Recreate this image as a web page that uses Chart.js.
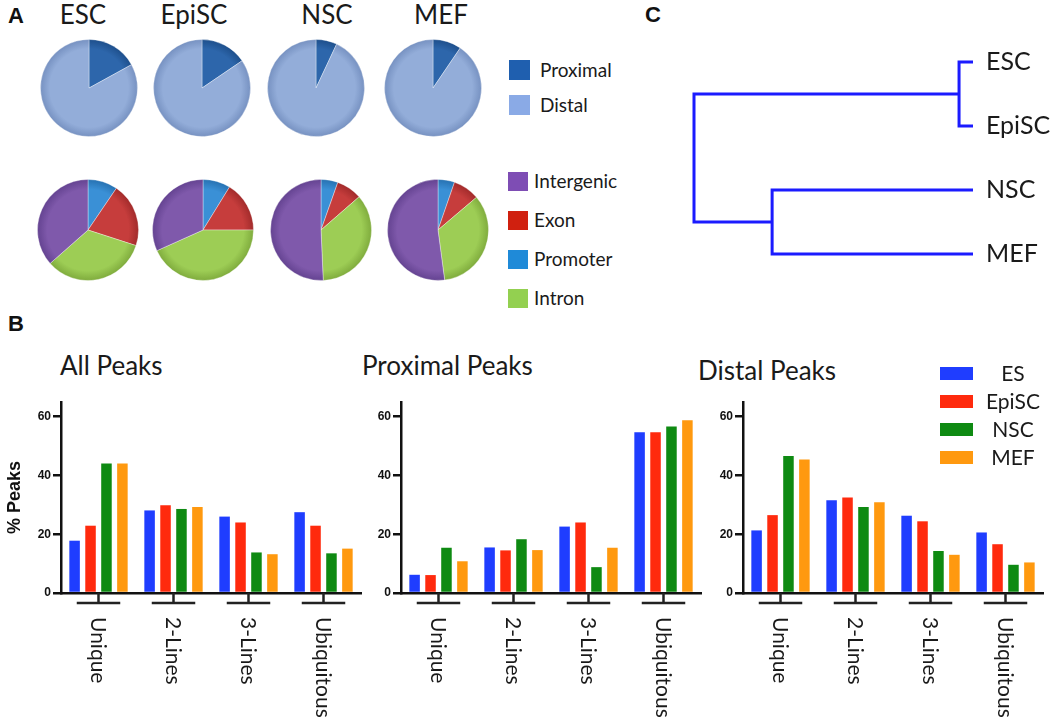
<!DOCTYPE html>
<html>
<head>
<meta charset="utf-8">
<script src="https://cdn.jsdelivr.net/npm/chart.js@4.4.1/dist/chart.umd.min.js"></script>
<style>
  body { margin: 0; background: #fff; }
  #fig { position: relative; width: 1050px; height: 725px; overflow: hidden; font-family: Lato, 'Open Sans', sans-serif; color: #1a1a1a; }
  .abs { position: absolute; white-space: nowrap; line-height: 1; }
  canvas { position: absolute; }
  .sw { position: absolute; }
</style>
</head>
<body>
<div id="fig"></div>
<script>
// --- A: pie data (percent) ---
const cellLines = ['ESC', 'EpiSC', 'NSC', 'MEF'];
const locationLabels = ['Proximal', 'Distal'];
const proximalPct = [17, 15.5, 7, 9.5];
const distalPct = [83, 84.5, 93, 90.5];
const featureLabels = ['Promoter', 'Exon', 'Intron', 'Intergenic'];
const promoterPct = [9.5, 8.8, 5.4, 5.3];
const exonPct = [20.5, 16.2, 8.2, 8.5];
const intronPct = [33.5, 43.3, 35.7, 34.1];
const intergenicPct = [36.5, 31.7, 50.7, 52.1];
const featureLegendOrder = ['Intergenic', 'Exon', 'Promoter', 'Intron'];

// --- C: dendrogram ---
const leafLabels = ['ESC', 'EpiSC', 'NSC', 'MEF'];
const mergePairs = [[0, 1], [2, 3], [4, 5]];
const mergeHeights = [0.05, 0.72, 1.0];

// --- B: bar data (% peaks) ---
const categories = ['Unique', '2-Lines', '3-Lines', 'Ubiquitous'];
const seriesLabels = ['ES', 'EpiSC', 'NSC', 'MEF'];
const yTicks = [0, 20, 40, 60];
const allES = [17.8, 28.1, 26.0, 27.5];
const allEpiSC = [22.9, 29.9, 24.0, 22.9];
const allNSC = [44.1, 28.6, 13.8, 13.5];
const allMEF = [44.1, 29.3, 13.2, 15.1];
const proxES = [6.2, 15.5, 22.6, 54.7];
const proxEpiSC = [6.1, 14.5, 24.0, 54.7];
const proxNSC = [15.4, 18.3, 8.8, 56.7];
const proxMEF = [10.8, 14.6, 15.4, 58.8];
const distES = [21.3, 31.6, 26.3, 20.6];
const distEpiSC = [26.5, 32.5, 24.4, 16.6];
const distNSC = [46.6, 29.3, 14.3, 9.6];
const distMEF = [45.4, 30.9, 13.0, 10.4];

// colours
const locColors = [['#2d66ab', '#1d4e8a'], ['#93add9', '#7590c0']];
const featColors = { Promoter: ['#3a90d6', '#2670b0'], Exon: ['#c63d3c', '#a02a2a'], Intron: ['#9dcd55', '#7eaa3c'], Intergenic: ['#7f59ab', '#634290'] };
const locSwatch = { Proximal: '#1f5faf', Distal: '#8aaae6' };
const featSwatch = { Intergenic: '#7e4db4', Exon: '#d0200f', Promoter: '#1f8ad8', Intron: '#93d050' };
const barColors = ['#1f3dff', '#ff2a0d', '#0e8a12', '#ff990f'];
const ink = '#1a1a1a';
const boldFont = "'Liberation Sans', Arial, sans-serif";

const fig = document.getElementById('fig');

function addText(text, left, top, css) {
  const d = document.createElement('div');
  d.className = 'abs';
  d.textContent = text;
  d.style.left = left + 'px';
  d.style.top = top + 'px';
  Object.assign(d.style, css || {});
  fig.appendChild(d);
  return d;
}

function addCanvas(left, top, w, h) {
  const c = document.createElement('canvas');
  c.width = w; c.height = h;
  c.style.left = left + 'px'; c.style.top = top + 'px';
  fig.appendChild(c);
  return c;
}

function addSwatch(left, top, w, h, color) {
  const s = document.createElement('div');
  s.className = 'sw';
  Object.assign(s.style, { left: left + 'px', top: top + 'px', width: w + 'px', height: h + 'px', background: color });
  fig.appendChild(s);
}

// 立体風の放射グラデーション（スライスごと）
function shade(colors) {
  return ctx => {
    const pair = colors[ctx.dataIndex] || colors[0];
    const area = ctx.chart.chartArea;
    if (!area) return pair[0];
    const cx = (area.left + area.right) / 2;
    const cy = (area.top + area.bottom) / 2;
    const r = Math.min(area.width, area.height) / 2;
    const g = ctx.chart.ctx.createRadialGradient(cx, cy, 0, cx, cy, r);
    g.addColorStop(0, pair[0]);
    g.addColorStop(0.8, pair[0]);
    g.addColorStop(1, pair[1]);
    return g;
  };
}

function makePie(cx, cy, r, values, colors) {
  const size = 2 * r + 2;
  const canvas = addCanvas(cx - size / 2, cy - size / 2, size, size);
  new Chart(canvas, {
    type: 'pie',
    data: {
      datasets: [{
        data: values,
        backgroundColor: shade(colors),
        borderColor: 'rgba(255,255,255,0.35)',
        borderWidth: 1
      }]
    },
    options: {
      responsive: false,
      animation: false,
      layout: { padding: 0 },
      plugins: { legend: { display: false }, tooltip: { enabled: false } }
    }
  });
}

// ---------- Panel A ----------
addText('A', 8, 5, { fontFamily: boldFont, fontWeight: 'bold', fontSize: '22px', color: '#111' });
const headerX = [83, 194, 327, 441];
const topPieX = [89, 202, 316, 433];
const botPieX = [88, 203, 321, 438];
cellLines.forEach((name, i) => {
  addText(name, headerX[i] - 60, 1, { width: '120px', textAlign: 'center', fontSize: '26px' });
  makePie(topPieX[i], 88, 48, [proximalPct[i], distalPct[i]], locColors);
  makePie(botPieX[i], 230, 50,
    [promoterPct[i], exonPct[i], intronPct[i], intergenicPct[i]],
    featureLabels.map(f => featColors[f]));
});

// pie legends
const locLegendY = [70, 105];
locationLabels.forEach((lab, i) => {
  addSwatch(509, locLegendY[i] - 10, 21, 20, locSwatch[lab]);
  addText(lab, 540, locLegendY[i] - 10, { fontSize: '19px' });
});
const featLegendY = [181, 220, 259, 298];
featureLegendOrder.forEach((lab, i) => {
  addSwatch(508, featLegendY[i] - 9, 20, 19, featSwatch[lab]);
  addText(lab, 534, featLegendY[i] - 10, { fontSize: '19px' });
});

// ---------- Panel C: dendrogram ----------
addText('C', 645, 4, { fontFamily: boldFont, fontWeight: 'bold', fontSize: '22px', color: '#111' });
const nodes = leafLabels.map((_, i) => ({ x: 0, y: i }));
const treeSets = mergePairs.map((pair, k) => {
  const a = nodes[pair[0]], b = nodes[pair[1]], h = mergeHeights[k];
  nodes.push({ x: h, y: (a.y + b.y) / 2 });
  return {
    data: [{ x: a.x, y: a.y }, { x: h, y: a.y }, { x: h, y: b.y }, { x: b.x, y: b.y }],
    showLine: true,
    borderColor: '#1b1bff',
    borderWidth: 3,
    pointRadius: 0,
    tension: 0,
    clip: false
  };
});
const treeCanvas = addCanvas(680, 20, 370, 280);
new Chart(treeCanvas, {
  type: 'scatter',
  data: { datasets: treeSets },
  options: {
    responsive: false,
    animation: false,
    layout: { padding: { left: 14, top: 10, bottom: 14, right: 0 } },
    plugins: { legend: { display: false }, tooltip: { enabled: false } },
    scales: {
      x: { type: 'linear', reverse: true, min: 0, max: 1, display: false },
      y: {
        type: 'linear', position: 'right', reverse: true, min: -0.5, max: 3.5,
        afterBuildTicks: s => { s.ticks = leafLabels.map((_, i) => ({ value: i })); },
        afterFit: s => { s.width = 77; s.paddingTop = 0; s.paddingBottom = 0; },
        grid: { display: false, drawTicks: false },
        border: { display: false },
        ticks: { padding: 13, color: ink, font: { family: 'Lato', size: 25 }, callback: v => leafLabels[v] }
      }
    }
  }
});

// ---------- Panel B: bar charts ----------
addText('B', 8, 313, { fontFamily: boldFont, fontWeight: 'bold', fontSize: '22px', color: '#111' });

const axisY = 593;
// 群ごとのブラケットと縦書きラベル
const bracketPlugin = {
  id: 'brackets',
  afterDraw(chart) {
    const x = chart.scales.x;
    const ctx = chart.ctx;
    const bottom = chart.chartArea.bottom;
    const half = x.width / categories.length * 0.29;
    ctx.save();
    ctx.strokeStyle = '#222';
    ctx.lineWidth = 2.5;
    categories.forEach((c, i) => {
      const cx = x.getPixelForValue(i);
      ctx.beginPath();
      ctx.moveTo(cx - half, bottom + 10);
      ctx.lineTo(cx + half, bottom + 10);
      ctx.moveTo(cx, bottom);
      ctx.lineTo(cx, bottom + 10);
      ctx.stroke();
      ctx.save();
      ctx.translate(cx - 1, bottom + 24);
      ctx.rotate(Math.PI / 2);
      ctx.font = '21px Lato';
      ctx.fillStyle = ink;
      ctx.textAlign = 'left';
      ctx.textBaseline = 'middle';
      ctx.fillText(c, 0, 0);
      ctx.restore();
    });
    ctx.restore();
  }
};

function makeBarChart(left, width, axisLeft, axisRight, title, titleLeft, titleTop, series, showYTitle) {
  const top = 395;
  const height = 725 - top;
  addText(title, titleLeft, titleTop, { fontSize: '26px' });
  const canvas = addCanvas(left, top, width, height);
  new Chart(canvas, {
    type: 'bar',
    data: {
      labels: categories,
      datasets: series.map((vals, i) => ({
        label: seriesLabels[i],
        data: vals,
        backgroundColor: barColors[i],
        borderWidth: 0,
        categoryPercentage: 0.85,
        barPercentage: 0.66
      }))
    },
    options: {
      responsive: false,
      animation: false,
      layout: { padding: { top: 402 - top, right: left + width - axisRight, left: 0, bottom: 0 } },
      plugins: { legend: { display: false }, tooltip: { enabled: false } },
      scales: {
        x: {
          ticks: { display: false },
          grid: { display: false, drawTicks: false },
          border: { color: '#111', width: 2.5 },
          afterFit: s => { s.height = 725 - axisY; }
        },
        y: {
          min: 0, max: 65,
          afterBuildTicks: s => { s.ticks = yTicks.map(v => ({ value: v })); },
          afterFit: s => { s.width = axisLeft - left; s.paddingTop = 0; s.paddingBottom = 0; },
          ticks: { padding: 2, color: '#111', font: { family: boldFont, weight: 'bold', size: 12 } },
          grid: { drawOnChartArea: false, drawTicks: true, tickLength: 8, color: '#111', lineWidth: 2.5 },
          border: { color: '#111', width: 2.5 },
          title: {
            display: showYTitle, text: '% Peaks', color: '#111', padding: 4,
            font: { family: boldFont, weight: 'bold', size: 18 }
          }
        }
      }
    },
    plugins: [bracketPlugin]
  });
}

makeBarChart(0, 365, 61, 361, 'All Peaks', 60, 352, [allES, allEpiSC, allNSC, allMEF], true);
makeBarChart(365, 340, 401, 701, 'Proximal Peaks', 362, 352, [proxES, proxEpiSC, proxNSC, proxMEF], false);
makeBarChart(705, 345, 743, 1043, 'Distal Peaks', 698, 357, [distES, distEpiSC, distNSC, distMEF], false);

// bar legend
const barLegendY = [373, 401, 429, 457];
seriesLabels.forEach((lab, i) => {
  addSwatch(940, barLegendY[i] - 6, 33, 13, barColors[i]);
  addText(lab, 973, barLegendY[i] - 11, { width: '80px', textAlign: 'center', fontSize: '21px' });
});
</script>
</body>
</html>
